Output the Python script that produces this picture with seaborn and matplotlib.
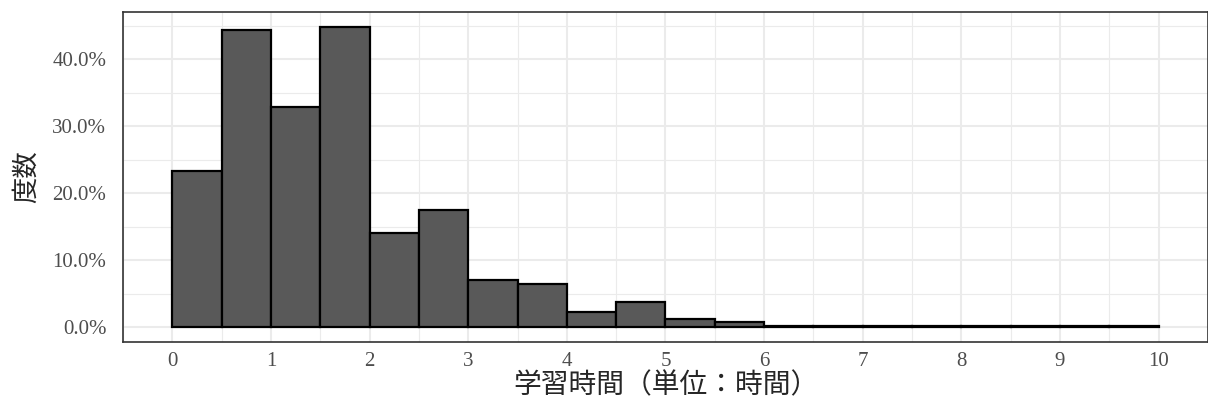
import numpy as np
import pandas as pd
import matplotlib
matplotlib.use("Agg")
import matplotlib.pyplot as plt
import seaborn as sns
from matplotlib.ticker import MultipleLocator, FuncFormatter

# histogram bins (hours) and bar heights (percent)
bin_left = [0.0, 0.5, 1.0, 1.5, 2.0, 2.5, 3.0, 3.5, 4.0, 4.5,
            5.0, 5.5, 6.0, 6.5, 7.0, 7.5, 8.0, 8.5, 9.0, 9.5]
pct = [23.3, 44.3, 32.9, 44.8, 14.1, 17.4, 7.0, 6.4, 2.2, 3.7,
       1.2, 0.7, 0.2, 0.2, 0.2, 0.2, 0.2, 0.2, 0.2, 0.2]
x_ticks = [0, 1, 2, 3, 4, 5, 6, 7, 8, 9, 10]
y_ticks = [0, 10, 20, 30, 40]

df = pd.DataFrame({"hours": np.array(bin_left) + 0.25, "pct": pct})

sns.set_style("white")
plt.rcParams['font.family'] = ['Noto Sans CJK JP', 'DejaVu Sans']

fig = plt.figure(figsize=(12.08, 4.05), dpi=100)
ax = fig.add_axes([0.1018, 0.1556, 0.8982, 0.8148])

sns.histplot(data=df, x="hours", weights="pct", binwidth=0.5, binrange=(0, 10),
             ax=ax, color="#595959", alpha=1, edgecolor="black", linewidth=1.6)

ax.set_xlim(-0.5, 10.5)
ax.set_ylim(-2.24, 47.04)
ax.set_xticks(x_ticks)
ax.set_yticks(y_ticks)
ax.xaxis.set_minor_locator(MultipleLocator(0.5))
ax.yaxis.set_minor_locator(MultipleLocator(5))
ax.yaxis.set_major_formatter(FuncFormatter(lambda v, p: f"{v:.1f}%"))

ax.grid(True, which="major", color="#EBEBEB", linewidth=1.5)
ax.grid(True, which="minor", color="#EBEBEB", linewidth=0.8)
ax.set_axisbelow(True)

for s in ax.spines.values():
    s.set_color("#333333")
    s.set_linewidth(1.2)

ax.tick_params(axis="both", which="major", length=4, width=1.1,
               color="#333333", labelcolor="#4D4D4D", labelsize=15, pad=3)
ax.tick_params(axis="y", which="major", pad=8)
ax.tick_params(axis="both", which="minor", length=0)
for lab in ax.get_xticklabels() + ax.get_yticklabels():
    lab.set_family("Liberation Serif")

ax.set_xlabel("学習時間（単位：時間）", fontsize=20, labelpad=0)
ax.set_ylabel("度数", fontsize=19, labelpad=9)

fig.savefig("out.png", dpi=100)
